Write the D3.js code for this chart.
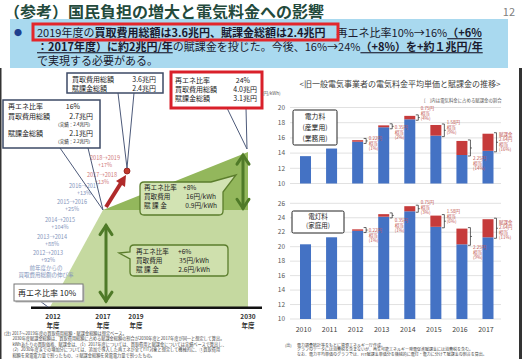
<!DOCTYPE html>
<html><head><meta charset="utf-8">
<script src="https://cdn.jsdelivr.net/npm/d3@7"></script>
<style>
html,body{margin:0;padding:0;background:#fff;}
svg{display:block;font-family:"Noto Sans CJK JP","Noto Sans",sans-serif;}
</style></head><body>
<svg id="c" width="522" height="359"></svg>
<script>
// ---------------- data ----------------
const years = ["2010","2011","2012","2013","2014","2015","2016","2017"];
const industrialBase = [13.6,14.6,15.5,17.4,18.45,16.3,13.75,14.3];
const industrialSurcharge = [0,0,0.2,0.25,0.45,1.4,1.85,2.25];
const householdBase = [20.33,21.3,22.2,24.15,24.9,22.75,20.33,21.3];
const householdSurcharge = [0,0,0.2,0.35,0.7,1.55,2.17,2.5];
const surchargeLabels = ["","","0.22円","0.35円","0.75円","1.58円","2.25円","2.64円"];
const industrialShare = ["","","(1%)","(2%)","(4%)","(9%)","(14%)","(16%)"];
const householdShare = ["","","(1%)","(1%)","(3%)","(6%)","(9%)","(11%)"];
const industrialTicks = [10,12,14,16,18,20];
const householdTicks = [10,12,14,16,18,20,22,24,26];

// left schematic
const milestoneYears = [2012, 2017, 2019, 2030];
const reShareYears = [2012, 2017, 2030];
const reShare = [10, 16, 24];
const growthLabels = [["2018→2019","+17%"],["2017→2018","+13%"],["2016→2017","+13%"],["2015→2016","+25%"],["2014→2015","+104%"],["2013→2014","+88%"],["2012→2013","+92%"],["前年度からの","買取費用総額の伸び率"]];

// ---------------- layout ----------------
const svg = d3.select("#c");
const FONT_BAR = 6.5;
const layoutGrowth = [[105,158],[102,175],[84,186],[72,202],[60,220],[52,237],[48,253],[46,268]];
const dyUpper = [0,0,-3,0.7,-9.6,-8.3,10,-8.2];
const dyLower = [0,0,0,4.5,-6.8,-10.2,10.5,-6.3];

// slide edges
svg.append("rect").attr("x",0).attr("y",68).attr("width",1.5).attr("height",291).attr("fill","#333");
svg.append("rect").attr("x",519).attr("y",68).attr("width",3).attr("height",291).attr("fill","#333");

// ---------------- header ----------------
svg.append("text").attr("x",4).attr("y",17.5).attr("font-size",16).attr("font-weight","bold")
  .attr("fill","#234a3c").text("（参考）国民負担の増大と電気料金への影響");
svg.append("text").attr("x",515).attr("y",15.5).attr("font-size",11).attr("text-anchor","end")
  .attr("fill","#808080").text("12");
svg.append("rect").attr("x",10).attr("y",19).attr("width",498).attr("height",49).attr("fill","#a9d9ef");
svg.append("text").attr("x",14).attr("y",36).attr("font-size",8).attr("fill","#1f3f8f").text("●");

function richLine(x, y, segs) {
  const t = svg.append("text").attr("x",x).attr("y",y).attr("font-size",11).attr("fill","#1a1a2e");
  segs.forEach(s => {
    const ts = t.append("tspan").text(s[0]);
    if (s[1]) ts.attr("font-weight","bold");
    if (s[2]) ts.style("text-decoration","underline");
  });
}
richLine(37, 37.2, [["2019年度の"],["買取費用総額は3.6兆円、賦課金総額は2.4兆円",1],["　再エネ比率10%→16%"],["（+6%",1,1]]);
richLine(37, 51.2, [["：2017年度）",1,1],["に約2兆円/年",1,1],["の賦課金を投じた。今後、16%→24%"],["（+8%）を+約１兆円/年",1,1]]);
richLine(37, 64.7, [["で実現する必要がある。"]]);
svg.append("rect").attr("x",33).attr("y",24).attr("width",305).attr("height",16)
  .attr("fill","none").attr("stroke","#e3262b").attr("stroke-width",3);

// ---------------- left schematic ----------------
const xL = d3.scaleLinear().domain(milestoneYears).range([50,103,136,248]);
const yL = d3.scaleLinear().domain(reShare).range([307,210,152]);
const p2012 = [xL(reShareYears[0]), yL(reShare[0])];
const p2017 = [xL(reShareYears[1]), yL(reShare[1])];
const p2030lo = [xL(reShareYears[2]), yL(reShare[0])];
const p2030mid = [xL(reShareYears[2]), yL(reShare[1])];
const p2030hi = [xL(reShareYears[2]), yL(reShare[2])];

svg.append("path").attr("d", d3.line()([p2012,p2017,p2030mid,p2030lo]) + "Z").attr("fill","#c5d9a0");
svg.append("path").attr("d", d3.line()([p2017,p2030hi,p2030mid]) + "Z").attr("fill","#93b75c");

// baseline
svg.append("line").attr("x1",31).attr("x2",262).attr("y1",307.7).attr("y2",307.7)
  .attr("stroke","#111").attr("stroke-width",2.5);
// year labels
const yl = svg.append("g").attr("font-size",6.5).attr("font-weight","bold").attr("fill","#333").attr("text-anchor","middle");
milestoneYears.forEach((yr,i) => {
  const xx = xL(yr) + (i===0?3:0);
  yl.append("text").attr("x",xx).attr("y",318.5).text(yr);
  yl.append("text").attr("x",xx).attr("y",327.5).text("年度");
});

// growth labels
const gl = svg.append("g").attr("font-size",5.5).attr("text-anchor","middle");
growthLabels.forEach((lab,i) => {
  const [cx,cy] = layoutGrowth[i];
  const col = i < 2 ? "#d07a7a" : "#8394bb";
  gl.append("text").attr("x",cx).attr("y",cy+2).attr("fill",col).text(lab[0]);
  gl.append("text").attr("x",cx).attr("y",cy+8.5).attr("fill",col).text(lab[1]);
});

// green double arrows
function dblArrow(x, y1, y2) {
  const g = svg.append("g").attr("stroke","#4f7a28").attr("stroke-width",3).attr("fill","none").attr("stroke-linecap","round");
  g.append("line").attr("x1",x).attr("x2",x).attr("y1",y1+1).attr("y2",y2-1);
  g.append("path").attr("d",`M${x-6},${y1+10} L${x},${y1+1} L${x+6},${y1+10}`);
  g.append("path").attr("d",`M${x-6},${y2-10} L${x},${y2-1} L${x+6},${y2-10}`);
}
dblArrow(p2017[0]+3, yL(15.1), yL(10.3));
dblArrow(p2030hi[0]-5, yL(23.7), yL(16.1));

// red arrow & dot
const dot = [127,171];
svg.append("line").attr("x1",p2017[0]+3).attr("y1",p2017[1]-3).attr("x2",121).attr("y2",183)
  .attr("stroke","#b02a2a").attr("stroke-width",4);
svg.append("path").attr("d","M116,181 L126,175 L125,187 Z").attr("fill","#b02a2a");
svg.append("circle").attr("cx",dot[0]).attr("cy",dot[1]).attr("r",3).attr("fill","#c0392b").attr("stroke","#8b1a1a").attr("stroke-width",0.8);

// callout pointers
const ptr = svg.append("g").attr("stroke","#4d5a7a").attr("stroke-width",1).attr("fill","none");
ptr.append("path").attr("d",`M60,148 L${p2017[0]},${p2017[1]} L88,148`);
ptr.append("path").attr("d",`M118,93 L${dot[0]},${dot[1]-3} L134,93`);
ptr.append("path").attr("d",`M227,108 L${p2030hi[0]-1},${p2030hi[1]-3} L246,108`);
ptr.append("path").attr("d",`M40,301 L${p2012[0]-2},${p2012[1]}`);

function boxText(x, y, txt, size, anchor, bold) {
  const t = svg.append("text").attr("x",x).attr("y",y).attr("font-size",size).attr("fill","#222").text(txt);
  if (anchor) t.attr("text-anchor",anchor);
  if (bold) t.attr("font-weight","bold");
  return t;
}
// Box A
svg.append("rect").attr("x",3).attr("y",100).attr("width",97).attr("height",48).attr("fill","#fff")
  .attr("stroke","#3d4a66").attr("stroke-width",1.5);
boxText(8,109,"再エネ比率",7); boxText(80,109,"16%",7,"end");
boxText(8,118.5,"買取費用総額",7); boxText(93,118.5,"2.7兆円",7,"end");
boxText(93,125.5,"（実績：2.4兆円）",4.5,"end");
boxText(8,135.5,"賦課金総額",7); boxText(93,135.5,"2.1兆円",7,"end");
boxText(93,142.5,"（実績：2.2兆円）",4.5,"end");
// Box B
svg.append("rect").attr("x",67).attr("y",73).attr("width",96).attr("height",20).attr("fill","#fff")
  .attr("stroke","#3d4a66").attr("stroke-width",1.5);
boxText(72,82,"買取費用総額",7); boxText(156,82,"3.6兆円",7,"end");
boxText(72,90.5,"賦課金総額",7); boxText(156,90.5,"2.4兆円",7,"end");
// Box C
svg.append("rect").attr("x",171).attr("y",72).attr("width",91).attr("height",36).attr("fill","#fff")
  .attr("stroke","#d9202a").attr("stroke-width",3);
boxText(175,83,"再エネ比率",7); boxText(250,83,"24%",7,"end");
boxText(175,92,"買取費用総額",7); boxText(257,92,"4.0兆円",7,"end");
boxText(175,101,"賦課金総額",7); boxText(257,101,"3.1兆円",7,"end");

// Box D (tail top-right)
(function(){
  const x=140,y=182,w=83,h=33,r=4;
  const d=`M${x+r},${y} H${x+w-12} L236,175 L${x+w},${y+10} V${y+h-r} Q${x+w},${y+h} ${x+w-r},${y+h} H${x+r} Q${x},${y+h} ${x},${y+h-r} V${y+r} Q${x},${y} ${x+r},${y} Z`;
  svg.append("path").attr("d",d).attr("fill","#d2e3b3").attr("stroke","#5b7d2c").attr("stroke-width",1.3);
  boxText(144,189.5,"再エネ比率",6.6); boxText(183,189.5,"+8%",6.6);
  boxText(144,199,"買取費用",6.6); boxText(216,199,"16円/kWh",6.6,"end");
  boxText(144,208,"賦 課 金",6.6); boxText(217,208,"0.9円/kWh",6.6,"end");
})();
// Box E (tail left)
(function(){
  const x=130,y=245,w=98,h=31,r=4;
  const d=`M${x+r},${y} H${x+w-r} Q${x+w},${y} ${x+w},${y+r} V${y+h-r} Q${x+w},${y+h} ${x+w-r},${y+h} H${x+r} Q${x},${y+h} ${x},${y+h-r} V${y+14} L119,253 L${x},${y+7} V${y+r} Q${x},${y} ${x+r},${y} Z`;
  svg.append("path").attr("d",d).attr("fill","#cfe0ad").attr("stroke","#5b7d2c").attr("stroke-width",1.3);
  boxText(136,254,"再エネ比率",6.6); boxText(178,254,"+6%",6.6);
  boxText(136,263,"買取費用",6.6); boxText(209,263,"35円/kWh",6.6,"end");
  boxText(136,272,"賦 課 金",6.6); boxText(210,272,"2.6円/kWh",6.6,"end");
})();
// Box F
svg.append("rect").attr("x",15.5).attr("y",285.5).attr("width",69).attr("height",17).attr("fill","#bbb");
svg.append("rect").attr("x",14).attr("y",284).attr("width",69).attr("height",17).attr("fill","#fff")
  .attr("stroke","#777").attr("stroke-width",1);
boxText(18,295.5,"再エネ比率 10%",8);

// left footnote
const fnL = ["(注) 2017〜2019年度の買取費用総額・賦課金総額は想定ベース。",
 "　　2030年度賦課金総額は、買取費用総額に占める賦課金総額の割合が2030年度と2017年度が同一と想定して算出。",
 "　　kWhあたりの買取価格、賦課金は、（1）2017年度については、買取費用と賦課金については実績ベースで算出し、",
 "　　（2）2030年度までの増加分については、追加で導入した再エネが全てFIT対象と想定して機械的に、①買取費用",
 "　　総額を発電電力量で割ったもの、②賦課金総額を発電電力量で割ったもの。"];
fnL.forEach((t,i)=> svg.append("text").attr("x",4).attr("y",334.5+i*5.5).attr("font-size",4.2).attr("fill","#444").text(t));

// ---------------- right bar charts ----------------
const x = d3.scaleBand().domain(years).range([292.5,501]).paddingInner(0.578).paddingOuter(0.288);
const yU = d3.scaleLinear().domain([10,20]).range([183.5,107.5]);
const yD = d3.scaleLinear().domain([10,26]).range([319,203.3]);

svg.append("text").attr("x",400).attr("y",87).attr("text-anchor","middle").attr("font-size",8)
  .attr("fill","#404040").text("<旧一般電気事業者の電気料金平均単価と賦課金の推移>");
svg.append("text").attr("x",262).attr("y",95).attr("font-size",4.5).attr("fill","#555").text("(円/kWh)");
svg.append("text").attr("x",424).attr("y",101.5).attr("font-size",4.4).attr("fill","#555").text("[　]内は電気料金に占める賦課金の割合");

function drawPanel(base, sur, y, ticks, shares, dyFirst) {
  const g = svg.append("g");
  g.selectAll(null).data(ticks).join("line")
    .attr("x1",290).attr("x2",501).attr("y1",d=>y(d)).attr("y2",d=>y(d))
    .attr("stroke","#d9d9d9").attr("stroke-width",0.8);
  g.selectAll(null).data(ticks).join("text")
    .attr("x",285).attr("y",d=>y(d)+2.2).attr("text-anchor","end").attr("font-size",FONT_BAR)
    .attr("fill","#595959").text(d=>d);
  g.selectAll(null).data(years).join("rect")
    .attr("x",d=>x(d)).attr("width",x.bandwidth())
    .attr("y",(d,i)=>y(base[i])).attr("height",(d,i)=>y(10)-y(base[i])).attr("fill","#4472c4");
  g.selectAll(null).data(years).join("rect")
    .attr("x",d=>x(d)).attr("width",x.bandwidth())
    .attr("y",(d,i)=>y(base[i]+sur[i])).attr("height",(d,i)=>y(base[i])-y(base[i]+sur[i])).attr("fill","#c63b3b");
  years.forEach((yr,i)=>{
    if (!(sur[i]>0)) return;
    const bx = x(yr)+x.bandwidth()+3;
    let top = y(base[i]+sur[i])-1, bot = y(base[i])+1;
    if (bot-top<5){ const m=(top+bot)/2; top=m-2.5; bot=m+2.5; }
    const mid=(top+bot)/2;
    g.append("path").attr("d",`M${bx-2.5},${top} H${bx} V${bot} H${bx-2.5} M${bx},${mid} H${bx+1.5}`)
      .attr("stroke","#222").attr("stroke-width",0.7).attr("fill","none");
    const lines = i===years.length-1 ? ["賦課金",surchargeLabels[i],"相当",shares[i]] : [surchargeLabels[i],"相当",shares[i]];
    lines.forEach((t,k)=> g.append("text").attr("x",bx+2.5).attr("y",mid+dyFirst[i]+1.6+k*5)
      .attr("font-size",4.5).attr("fill","#c0504d").text(t));
  });
  return g;
}
drawPanel(industrialBase, industrialSurcharge, yU, industrialTicks, industrialShare, dyUpper);
drawPanel(householdBase, householdSurcharge, yD, householdTicks, householdShare, dyLower);

svg.append("g").selectAll("text").data(years).join("text")
  .attr("x",d=>x(d)+x.bandwidth()/2-2).attr("y",331.5).attr("text-anchor","middle")
  .attr("font-size",7).attr("fill","#404040").text(d=>d);

// legend boxes
svg.append("rect").attr("x",293).attr("y",110).attr("width",44).attr("height",35).attr("rx",1.5)
  .attr("fill","#fff").attr("stroke","#222").attr("stroke-width",1);
[["電力料",118.5],["(産業用)",129.5],["(業務用)",140.5]].forEach(d=>
  svg.append("text").attr("x",315).attr("y",d[1]).attr("text-anchor","middle").attr("font-size",6.8).attr("fill","#222").text(d[0]));
svg.append("rect").attr("x",292).attr("y",211).attr("width",52).attr("height",22).attr("rx",1.5)
  .attr("fill","#fff").attr("stroke","#222").attr("stroke-width",1);
[["電灯料",218.5],["(家庭用)",227.8]].forEach(d=>
  svg.append("text").attr("x",318).attr("y",d[1]).attr("text-anchor","middle").attr("font-size",6.5).attr("fill","#222").text(d[0]));

// right footnote
const fnR = [["(出)","電力調査統計等をもとに資源エネルギー庁作成。"],
 ["","グラフのデータには消費税を含まないが、再生可能エネルギー発電促進賦課金には消費税を含む。"],
 ["","なお、電力平均単価のグラフでは、FIT賦課金単価分を機械的に電灯・電力に分けて賦課金の割合を算出。"]];
fnR.forEach((d,i)=>{
  svg.append("text").attr("x",285).attr("y",346.5+i*4.6).attr("font-size",4).attr("fill","#444").text(d[0]);
  svg.append("text").attr("x",297).attr("y",346.5+i*4.6).attr("font-size",4).attr("fill","#444").text(d[1]);
});
</script>
</body></html>
